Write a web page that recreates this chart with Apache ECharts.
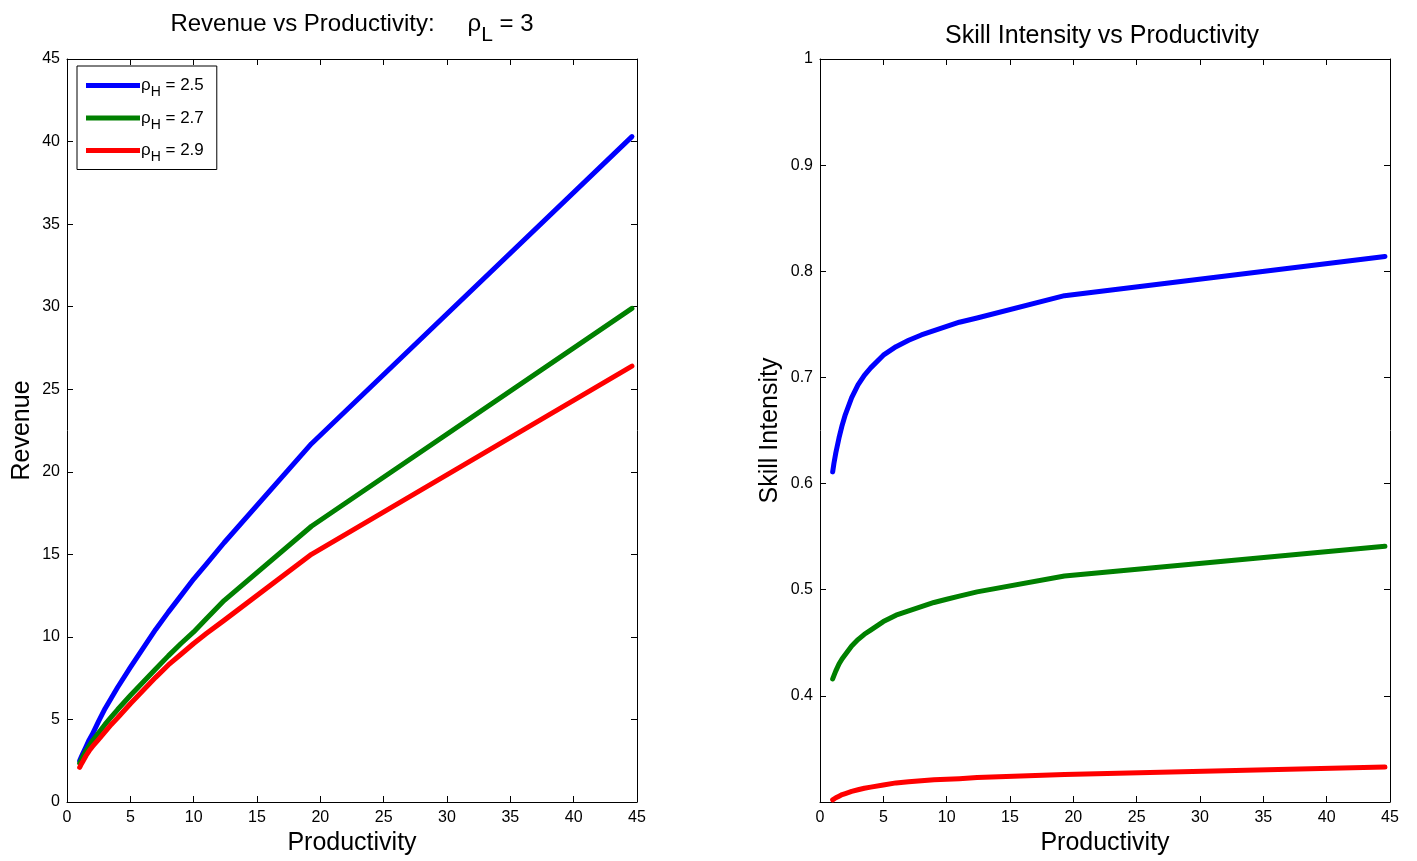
<!DOCTYPE html>
<html>
<head>
<meta charset="utf-8">
<script src="https://cdn.jsdelivr.net/npm/echarts@6/dist/echarts.min.js"></script>
<style>
  html, body { margin: 0; padding: 0; background: #fff; overflow: hidden; }
  #chart { width: 1417px; height: 861px; }
</style>
</head>
<body>
<div id="chart"></div>
<script>
// productivity grid (denser at low values, as in the source)
var productivity = [1, 1.1, 1.25, 1.5, 1.75, 2, 2.5, 3, 3.5, 4, 5, 6, 7, 8, 9, 10, 11, 12.4, 19.3, 44.6];

var rhoH = ['2.5', '2.7', '2.9'];
var colors = ['#0000ff', '#008000', '#ff0000'];

// revenue, one row per rho_H
var revenue25 = [2.5, 2.68, 2.94, 3.35, 3.76, 4.1, 4.9, 5.65, 6.3, 6.95, 8.15, 9.3, 10.45, 11.5, 12.5, 13.5, 14.4, 15.7, 21.7, 40.3];
var revenue27 = [2.35, 2.5, 2.75, 3.1, 3.4, 3.7, 4.2, 4.7, 5.15, 5.6, 6.45, 7.25, 8.05, 8.85, 9.6, 10.3, 11.1, 12.2, 16.7, 29.9];
var revenue29 = [2.1, 2.25, 2.45, 2.8, 3.1, 3.35, 3.8, 4.25, 4.7, 5.1, 5.95, 6.75, 7.55, 8.3, 8.95, 9.6, 10.2, 11.0, 15.0, 26.4];

// skill intensity, one row per rho_H
var skill25 = [0.611, 0.619, 0.629, 0.643, 0.655, 0.665, 0.681, 0.693, 0.702, 0.709, 0.721, 0.729, 0.735, 0.740, 0.744, 0.748, 0.752, 0.756, 0.777, 0.814];
var skill27 = [0.416, 0.419, 0.4235, 0.430, 0.435, 0.439, 0.447, 0.453, 0.458, 0.462, 0.470, 0.476, 0.480, 0.484, 0.488, 0.491, 0.494, 0.498, 0.513, 0.541];
var skill29 = [0.302, 0.3028, 0.304, 0.3055, 0.307, 0.308, 0.310, 0.3115, 0.313, 0.314, 0.316, 0.318, 0.319, 0.320, 0.321, 0.3215, 0.322, 0.323, 0.326, 0.333];

var revenueRows = [revenue25, revenue27, revenue29];
var skillRows = [skill25, skill27, skill29];

var tickFont = 'Liberation Sans Narrow, Liberation Sans, Arial, sans-serif';
var mainFont = 'Liberation Sans, Arial, sans-serif';

function pairs(xs, ys) {
  return xs.map(function (x, i) { return [x, ys[i]]; });
}

function xAx(gridIndex, pos, showLabels, name) {
  return {
    type: 'value', gridIndex: gridIndex, position: pos,
    min: 0, max: 45, interval: 5,
    name: name || '', nameLocation: 'middle', nameGap: 29,
    nameTextStyle: { fontFamily: mainFont, fontSize: 25, color: '#000' },
    axisLine: { show: true, onZero: false, lineStyle: { color: '#000', width: 1 } },
    axisTick: { show: true, inside: true, length: 6, lineStyle: { color: '#000' } },
    axisLabel: { show: showLabels, fontFamily: tickFont, fontSize: 16, color: '#000', margin: 8 },
    splitLine: { show: false }
  };
}

function yAx(gridIndex, pos, showLabels, name, gap, min, max, interval, hideMin) {
  return {
    type: 'value', gridIndex: gridIndex, position: pos,
    min: min, max: max, interval: interval,
    name: name || '', nameLocation: 'middle', nameGap: gap, nameRotate: 90,
    nameTextStyle: { fontFamily: mainFont, fontSize: 25, color: '#000' },
    axisLine: { show: true, onZero: false, lineStyle: { color: '#000', width: 1 } },
    axisTick: { show: true, inside: true, length: 6, lineStyle: { color: '#000' } },
    axisLabel: {
      show: showLabels, fontFamily: tickFont, fontSize: 16, color: '#000', margin: 7,
      formatter: function (v) {
        if (hideMin && Math.abs(v - min) < 1e-9) return '';
        return String(Math.round(v * 10) / 10);
      }
    },
    splitLine: { show: false }
  };
}

var series = [];
rhoH.forEach(function (r, i) {
  var name = 'ρH = ' + r;
  series.push({
    name: name, type: 'line', xAxisIndex: 0, yAxisIndex: 0,
    data: pairs(productivity, revenueRows[i]),
    showSymbol: false, symbol: 'none', smooth: false,
    lineStyle: { color: colors[i], width: 5, cap: 'round', join: 'round' },
    itemStyle: { color: colors[i] }
  });
  series.push({
    name: name, type: 'line', xAxisIndex: 2, yAxisIndex: 2,
    data: pairs(productivity, skillRows[i]),
    showSymbol: false, symbol: 'none', smooth: false,
    lineStyle: { color: colors[i], width: 5, cap: 'round', join: 'round' },
    itemStyle: { color: colors[i] }
  });
});

var chart = echarts.init(document.getElementById('chart'));
chart.setOption({
  animation: false,
  backgroundColor: '#fff',
  title: [
    {
      text: '{a|Revenue vs Productivity:}{r|ρ}{s|L}{a| = 3}',
      left: 347, top: -2, textAlign: 'center',
      textStyle: {
        rich: {
          a: { fontFamily: mainFont, fontSize: 24, fontWeight: 'normal', color: '#000' },
          r: { fontFamily: mainFont, fontSize: 24, fontWeight: 'normal', color: '#000', padding: [0, 0, 0, 33] },
          s: { fontFamily: mainFont, fontSize: 21, fontWeight: 'normal', color: '#000', padding: [22, 0, 0, 0] }
        }
      }
    },
    {
      text: 'Skill Intensity vs Productivity',
      left: 1097, top: 19, textAlign: 'center',
      textStyle: { fontFamily: mainFont, fontSize: 25, fontWeight: 'normal', color: '#000' }
    }
  ],
  legend: {
    left: 77, top: 66, orient: 'vertical',
    data: rhoH.map(function (r) { return 'ρH = ' + r; }),
    icon: 'rect', itemWidth: 54, itemHeight: 5, itemGap: 10,
    padding: [11, 13, 5, 9],
    borderColor: '#000', borderWidth: 1, borderRadius: 0,
    backgroundColor: '#fff',
    selectedMode: false,
    formatter: function (n) {
      return '{a|ρ}{s|H}{a|' + n.slice(2) + '}';
    },
    textStyle: {
      padding: [0, 0, 0, -4],
      rich: {
        a: { fontFamily: mainFont, fontSize: 17, color: '#000' },
        s: { fontFamily: mainFont, fontSize: 14, color: '#000', padding: [14, 0, 0, 0] }
      }
    }
  },
  grid: [
    { left: 67, top: 59, width: 570, height: 748, containLabel: false },
    { left: 820, top: 59, width: 570, height: 748, containLabel: false }
  ],
  xAxis: [
    xAx(0, 'bottom', true, 'Productivity'),
    xAx(0, 'top', false),
    xAx(1, 'bottom', true, 'Productivity'),
    xAx(1, 'top', false)
  ],
  yAxis: [
    yAx(0, 'left', true, 'Revenue', 32, 0, 45, 5, false),
    yAx(0, 'right', false, '', 32, 0, 45, 5, false),
    yAx(1, 'left', true, 'Skill Intensity', 37, 0.3, 1, 0.1, true),
    yAx(1, 'right', false, '', 37, 0.3, 1, 0.1, true)
  ],
  series: series
});
</script>
</body>
</html>
